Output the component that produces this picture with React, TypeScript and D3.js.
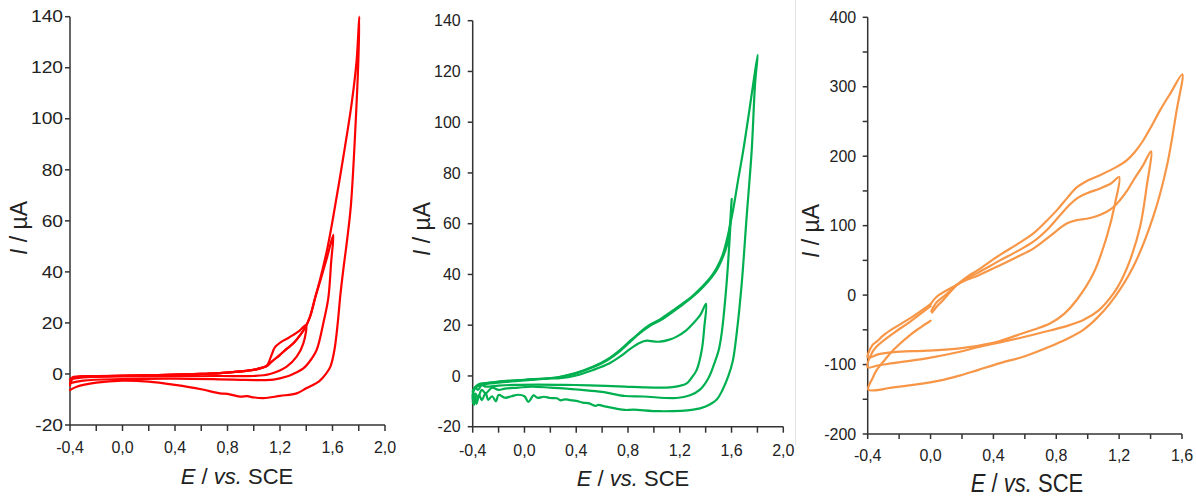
import React from 'react';
import * as d3 from 'd3';

type Pt = [number, number];

// ---------------- data (E / V vs SCE, I / µA) ----------------
const redScan14: Pt[] = [
  [-0.4, -2.2], [-0.38, -1.3], [-0.35, -1.0], [-0.2, -0.8], [0.2, -0.5], [0.6, 0], [0.743, 0.3], [0.9, 1.0],
  [0.997, 1.6], [1.06, 2.4], [1.1, 3.3], [1.136, 7.5], [1.162, 10.5], [1.213, 12.7], [1.26, 14], [1.302, 15.3],
  [1.35, 17], [1.398, 19.2],
  [1.378, 12], [1.327, 6.8], [1.251, 2.9], [1.124, 0], [0.997, -0.8], [0.743, -0.8], [0.4, -0.9], [0, -1.0],
  [-0.3, -1.3], [-0.4, -2.0],
];
const redScan16: Pt[] = [
  [-0.4, -3.6], [-0.38, -1.6], [-0.35, -1.2], [-0.2, -0.9], [0.2, -0.5], [0.6, 0], [0.743, 0.3], [0.9, 1.0],
  [0.997, 1.6], [1.06, 2.4], [1.1, 3.1], [1.136, 4.8], [1.2, 7.5], [1.25, 9.8], [1.302, 12], [1.35, 15],
  [1.39, 18], [1.429, 22.5], [1.467, 29.7], [1.51, 37], [1.56, 46], [1.606, 54.5],
  [1.59, 44], [1.568, 29.7], [1.53, 19.9], [1.479, 9.4], [1.42, 4.5], [1.378, 2.2], [1.3, 0], [1.251, -1],
  [1.15, -2.2], [1.073, -2.4], [0.9, -2.3], [0.743, -2.1], [0.4, -1.8], [0, -2.0], [-0.3, -2.6], [-0.4, -3.6],
];
const redScan18: Pt[] = [
  [-0.4, -4.5], [-0.38, -1.8], [-0.35, -1.2], [-0.2, -0.9], [0.2, -0.5], [0.6, 0], [0.743, 0.3], [0.9, 1.0],
  [0.997, 1.6], [1.06, 2.4], [1.1, 3.1], [1.136, 4.8], [1.2, 7.5], [1.25, 9.8], [1.302, 12], [1.35, 15],
  [1.39, 18], [1.429, 22.5], [1.467, 29.7], [1.51, 38], [1.56, 49], [1.606, 61.7], [1.683, 85.2], [1.746, 106],
  [1.784, 123], [1.804, 140],
  [1.797, 123], [1.775, 97], [1.74, 66], [1.71, 52], [1.685, 42], [1.66, 31], [1.64, 20], [1.615, 9.5],
  [1.585, 3], [1.55, 0], [1.5, -2.8], [1.4, -5.6], [1.327, -7.6], [1.2, -8.6], [1.073, -9.5], [1.0, -9.2],
  [0.95, -8.7], [0.895, -8.9], [0.8, -7.8], [0.743, -7.6], [0.6, -6.0], [0.4, -4.3], [0.2, -3.0], [0, -2.6],
  [-0.2, -3.4], [-0.35, -5], [-0.4, -6.3],
];

const greenScan14: Pt[] = [
  [-0.4, -6], [-0.38, -4.6], [-0.35, -3.8], [-0.3, -3.2], [-0.2, -2.6], [0.0, -1.8], [0.2, -1.0], [0.275, -0.9],
  [0.4, 0.2], [0.532, 2.4], [0.65, 4.8], [0.738, 7.6], [0.82, 10.8], [0.893, 13.1], [0.944, 13.9], [1.0, 13.6],
  [1.047, 13.5], [1.12, 14.3], [1.176, 15.5], [1.25, 18], [1.305, 20.8], [1.36, 24.2], [1.403, 28.4],
  [1.39, 19.4], [1.37, 10.2], [1.331, 2.4], [1.29, -0.8], [1.254, -2.9], [1.19, -4.0], [1.125, -4.5],
  [0.919, -4.5], [0.777, -4.2], [0.5, -3.7], [0.313, -3.5], [0.1, -3.4], [-0.073, -3.5], [-0.2, -3.8],
  [-0.3, -4.2], [-0.33, -3.6], [-0.36, -5.5], [-0.38, -4.5], [-0.4, -6],
];
const greenScan16: Pt[] = [
  [-0.4, -8], [-0.39, -5], [-0.35, -3.2], [-0.3, -2.8], [-0.2, -2.2], [0.0, -1.5], [0.2, -0.8], [0.275, -0.3],
  [0.4, 1.2], [0.532, 3.7], [0.64, 6.5], [0.738, 10.2], [0.82, 14], [0.906, 17.4], [0.97, 19.8], [1.047, 21.8],
  [1.12, 24.3], [1.202, 27.3], [1.3, 31.2], [1.382, 35.2], [1.44, 38.5], [1.485, 41.7], [1.53, 46.5],
  [1.562, 51], [1.585, 58], [1.601, 69.8],
  [1.588, 56.5], [1.562, 36.6], [1.524, 16.9], [1.5, 10], [1.459, 3.8], [1.42, -1], [1.356, -5.4], [1.28, -7.6],
  [1.176, -8.7], [0.919, -8.1], [0.777, -7.9], [0.6, -6.3], [0.442, -5.5], [0.3, -4.9], [0.2, -4.6],
  [0.056, -4.2], [-0.05, -4.6], [-0.15, -5.0], [-0.2, -5.5], [-0.25, -4.6], [-0.3, -6.8], [-0.33, -5.5],
  [-0.36, -8.5], [-0.38, -7], [-0.4, -9],
];
const greenScan18: Pt[] = [
  [-0.4, -9], [-0.39, -5.5], [-0.35, -3.4], [-0.3, -2.9], [-0.2, -2.3], [0.0, -1.6], [0.2, -0.9], [0.275, -0.4],
  [0.4, 1.0], [0.532, 3.5], [0.64, 6.2], [0.738, 9.8], [0.82, 13.6], [0.906, 17.8], [0.97, 20.2], [1.047, 22.3],
  [1.12, 24.8], [1.202, 27.8], [1.3, 31.6], [1.382, 35.6], [1.44, 39], [1.485, 42.5], [1.53, 47.5],
  [1.57, 55], [1.614, 66], [1.65, 77], [1.691, 89], [1.73, 102], [1.768, 115.3], [1.802, 126.5],
  [1.782, 115.3], [1.756, 89], [1.717, 62.9], [1.679, 36.6], [1.64, 16.9], [1.61, 6], [1.575, -0.1],
  [1.53, -5.5], [1.486, -9.3], [1.4, -12], [1.305, -13.3], [1.047, -13.9], [0.841, -13.3], [0.777, -13.4],
  [0.7, -12.8], [0.62, -12.0], [0.571, -11.4], [0.55, -11.8], [0.5, -10.8], [0.45, -10.5], [0.4, -9.8],
  [0.35, -9.5], [0.313, -9.2], [0.28, -9.6], [0.25, -8.8], [0.2, -8.7], [0.15, -8.2], [0.1, -8.6],
  [0.07, -7.6], [0.056, -8.5], [0.03, -10.2], [0.0, -8.0], [-0.05, -7.4], [-0.1, -8.0], [-0.15, -8.6],
  [-0.2, -7.5], [-0.22, -10.0], [-0.25, -8.0], [-0.28, -9.4], [-0.3, -6.8], [-0.33, -9.5], [-0.35, -7.5],
  [-0.37, -11], [-0.38, -8], [-0.39, -11.4], [-0.4, -10],
];

const orangeScan12: Pt[] = [
  [0.005, -23], [0.04, -10], [0.1, 1], [0.164, 14], [0.23, 24], [0.3, 32], [0.442, 50], [0.55, 63],
  [0.654, 77], [0.75, 96], [0.824, 115], [0.88, 129], [0.93, 139], [1.0, 147], [1.078, 153.5], [1.15, 161],
  [1.2, 170],
  [1.174, 132], [1.121, 84], [1.036, 31], [0.93, -7], [0.85, -27], [0.76, -41], [0.654, -50], [0.548, -58],
  [0.442, -66], [0.399, -68.6], [0.187, -76.7], [-0.025, -80], [-0.237, -82], [-0.33, -85], [-0.4, -90],
  [-0.37, -72], [-0.343, -67], [-0.3, -58], [-0.237, -48], [-0.131, -33.6], [0.0, -13],
];
const orangeScan14: Pt[] = [
  [0.0, -13], [0.039, -2.4], [0.145, 12], [0.23, 22], [0.3, 28], [0.442, 43], [0.55, 55], [0.654, 67],
  [0.76, 85], [0.866, 103], [0.93, 108], [0.994, 110], [1.06, 114], [1.121, 120], [1.17, 128], [1.206, 137],
  [1.25, 150], [1.29, 165], [1.35, 186], [1.403, 207],
  [1.375, 156], [1.333, 98], [1.269, 50], [1.22, 24], [1.163, 2], [1.07, -22], [0.972, -36], [0.86, -45],
  [0.76, -51], [0.6, -60], [0.442, -68], [0.3, -75], [0.187, -81.5], [-0.025, -91], [-0.237, -98],
  [-0.33, -101], [-0.4, -104],
  [-0.37, -82], [-0.343, -74], [-0.237, -55], [-0.131, -38.4], [0.0, -16],
];
const orangeScan16: Pt[] = [
  [0.01, -25], [0.05, -14], [0.081, -7], [0.164, 14], [0.23, 26], [0.3, 36], [0.442, 58], [0.55, 73],
  [0.654, 88.8], [0.73, 105], [0.803, 122], [0.87, 140], [0.93, 155], [1.0, 165], [1.078, 172.7],
  [1.184, 184.6], [1.248, 194], [1.3, 206], [1.354, 223], [1.41, 245], [1.46, 266], [1.53, 292], [1.602, 318],
  [1.566, 266], [1.503, 185], [1.417, 113], [1.29, 41], [1.142, -12], [1.05, -35], [0.972, -50], [0.86, -64],
  [0.76, -74], [0.6, -88], [0.442, -98], [0.3, -108], [0.2, -115], [0.081, -122], [-0.1, -129],
  [-0.237, -133], [-0.396, -136],
  [-0.37, -120], [-0.343, -108], [-0.29, -93], [-0.237, -79], [-0.131, -57.6], [-0.06, -46], [0.0, -37],
];

// ticks
const xTicksRG = [-0.4, -0.2, 0, 0.2, 0.4, 0.6, 0.8, 1.0, 1.2, 1.4, 1.6, 1.8, 2.0];
const xLabelsRG = [-0.4, 0, 0.4, 0.8, 1.2, 1.6, 2.0];
const yTicksRG = [-20, 0, 20, 40, 60, 80, 100, 120, 140];
const xTicksO = [-0.4, -0.2, 0, 0.2, 0.4, 0.6, 0.8, 1.0, 1.2, 1.4, 1.6];
const xLabelsO = [-0.4, 0, 0.4, 0.8, 1.2, 1.6];
const yTicksO = [-200, -150, -100, -50, 0, 50, 100, 150, 200, 250, 300, 350, 400];
const yLabelsO = [-200, -100, 0, 100, 200, 300, 400];

// ---------------- layout ----------------
interface PanelCfg {
  color: string;
  scans: Pt[][];
  xDomain: [number, number];
  yDomain: [number, number];
  left: number; right: number; top: number; bottom: number;
  xTicks: number[]; xLabels: number[]; yTicks: number[]; yLabels: number[];
  xTickLen: number; yLabelGap: number; yLabelStretch: number;
  xLabelBase: number; xTitleX: number; xTitleBase: number; xTitleStretch: number;
  yTitleX: number; yTitleY: number;
}

const panels: PanelCfg[] = [
  {
    color: '#FF0000', scans: [redScan14, redScan16, redScan18],
    xDomain: [-0.4, 2.0], yDomain: [-20, 140], left: 70, right: 385, top: 16.7, bottom: 425,
    xTicks: xTicksRG, xLabels: xLabelsRG, yTicks: yTicksRG, yLabels: yTicksRG,
    xTickLen: 6, yLabelGap: 7, yLabelStretch: 1.2, xLabelBase: 452.5, xTitleX: 237, xTitleBase: 484,
    xTitleStretch: 1, yTitleX: 27, yTitleY: 228,
  },
  {
    color: '#00B050', scans: [greenScan14, greenScan16, greenScan18],
    xDomain: [-0.4, 2.0], yDomain: [-20, 140], left: 472.7, right: 783.3, top: 20.7, bottom: 426.7,
    xTicks: xTicksRG, xLabels: xLabelsRG, yTicks: yTicksRG, yLabels: yTicksRG,
    xTickLen: 6, yLabelGap: 12, yLabelStretch: 1, xLabelBase: 456, xTitleX: 633, xTitleBase: 485.5,
    xTitleStretch: 1, yTitleX: 430, yTitleY: 229,
  },
  {
    color: '#F79646', scans: [orangeScan12, orangeScan14, orangeScan16],
    xDomain: [-0.4, 1.6], yDomain: [-200, 400], left: 867.7, right: 1182, top: 17.3, bottom: 434,
    xTicks: xTicksO, xLabels: xLabelsO, yTicks: yTicksO, yLabels: yLabelsO,
    xTickLen: 5, yLabelGap: 11.5, yLabelStretch: 1, xLabelBase: 461, xTitleX: 1027, xTitleBase: 492,
    xTitleStretch: 1.2, yTitleX: 819, yTitleY: 231,
  },
];

const FONT = '"Liberation Sans", Arial, Helvetica, sans-serif';
const AXIS = '#333333';
const TEXT = '#222222';
const fmtX = (v: number) => d3.format('.1f')(v).replace('.', ',').replace('\u2212', '-');

function Panel({ cfg }: { cfg: PanelCfg }) {
  const x = d3.scaleLinear().domain(cfg.xDomain).range([cfg.left, cfg.right]);
  const y = d3.scaleLinear().domain(cfg.yDomain).range([cfg.bottom, cfg.top]);
  const line = d3.line<Pt>().x((d) => x(d[0])).y((d) => y(d[1])).curve(d3.curveCatmullRom.alpha(0.5));
  const y0 = y(cfg.yDomain[0]);
  const x0 = x(cfg.xDomain[0]);
  return (
    <g fontFamily={FONT}>
      <line x1={x0} x2={x0} y1={y(cfg.yDomain[1])} y2={y0} stroke={AXIS} strokeWidth={1.5} />
      <line x1={x0} x2={x(cfg.xDomain[1])} y1={y0} y2={y0} stroke={AXIS} strokeWidth={1.5} />
      {cfg.yTicks.map((t) => (
        <line key={'yt' + t} x1={x0 - 5} x2={x0} y1={y(t)} y2={y(t)} stroke={AXIS} strokeWidth={1.5} />
      ))}
      {cfg.yLabels.map((t) => (
        <text key={'yl' + t} transform={`translate(${x0 - cfg.yLabelGap},${y(t) + 5.7}) scale(${cfg.yLabelStretch},1)`}
          textAnchor="end" fontSize={16} fill={TEXT}>{String(t)}</text>
      ))}
      {cfg.xTicks.map((t) => (
        <line key={'xt' + t} x1={x(t)} x2={x(t)} y1={y0} y2={y0 + cfg.xTickLen} stroke={AXIS} strokeWidth={1.5} />
      ))}
      {cfg.xLabels.map((t) => (
        <text key={'xl' + t} x={x(t)} y={cfg.xLabelBase} textAnchor="middle" fontSize={16} fill={TEXT}>{fmtX(t)}</text>
      ))}
      <text transform={`translate(${cfg.xTitleX},${cfg.xTitleBase}) scale(1,${cfg.xTitleStretch})`}
        textAnchor="middle" fontSize={22} fill={TEXT}>
        <tspan fontStyle="italic">E</tspan>{' / '}<tspan fontStyle="italic">vs.</tspan>{' SCE'}
      </text>
      <text transform={`translate(${cfg.yTitleX},${cfg.yTitleY}) rotate(-90)`} textAnchor="middle" fontSize={23} fill={TEXT}>
        <tspan fontStyle="italic">I</tspan>{' / µA'}
      </text>
      {cfg.scans.map((s, i) => (
        <path key={i} d={line(s) || ''} fill="none" stroke={cfg.color} strokeWidth={2.2}
          strokeLinejoin="round" strokeLinecap="round" />
      ))}
    </g>
  );
}

export default function App() {
  return (
    <svg width={1196} height={499} style={{ position: 'absolute', left: 0, top: 0, background: '#fff' }}>
      <rect x={0} y={0} width={1196} height={499} fill="#ffffff" />
      <line x1={795.5} x2={795.5} y1={0} y2={445} stroke="#e3e3e3" strokeWidth={1} />
      {panels.map((p, i) => <Panel key={i} cfg={p} />)}
    </svg>
  );
}
